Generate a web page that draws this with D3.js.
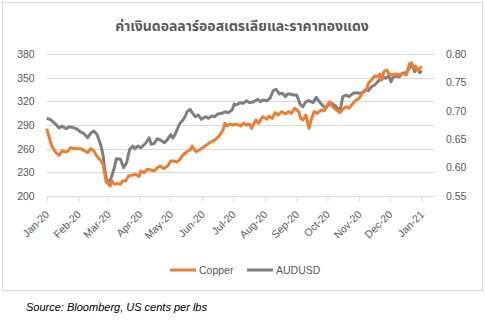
<!DOCTYPE html>
<html><head><meta charset="utf-8">
<script src="https://cdn.jsdelivr.net/npm/d3@7"></script>
<style>
html,body{margin:0;padding:0;background:#fff;}
svg{display:block;}
</style></head>
<body><div id="chart"></div>
<script>
const titleText = "ค่าเงินดอลลาร์ออสเตรเลียและราคาทองแดง";
const sourceText = "Source: Bloomberg, US cents per lbs";
const seriesNames = ["Copper", "AUDUSD"];
const leftTicks = [200, 230, 260, 290, 320, 350, 380];
const rightTicks = [0.55, 0.60, 0.65, 0.70, 0.75, 0.80];
const monthTicks = ["2020-01-01","2020-02-01","2020-03-01","2020-04-01","2020-05-01","2020-06-01","2020-07-01","2020-08-01","2020-09-01","2020-10-01","2020-11-01","2020-12-01","2021-01-01"];

const copperDates = ["2020-01-01","2020-01-03","2020-01-06","2020-01-10","2020-01-13","2020-01-16","2020-01-20","2020-01-22","2020-01-24","2020-01-29","2020-02-03","2020-02-06","2020-02-10","2020-02-13","2020-02-16","2020-02-19","2020-02-23","2020-02-25","2020-02-28","2020-03-01","2020-03-03","2020-03-05","2020-03-07","2020-03-10","2020-03-13","2020-03-15","2020-03-18","2020-03-21","2020-03-25","2020-03-28","2020-03-31","2020-04-02","2020-04-05","2020-04-08","2020-04-12","2020-04-15","2020-04-18","2020-04-21","2020-04-24","2020-04-28","2020-05-01","2020-05-04","2020-05-07","2020-05-10","2020-05-13","2020-05-17","2020-05-20","2020-05-22","2020-05-24","2020-05-26","2020-05-30","2020-06-02","2020-06-05","2020-06-08","2020-06-12","2020-06-15","2020-06-18","2020-06-21","2020-06-23","2020-06-25","2020-06-28","2020-07-01","2020-07-04","2020-07-08","2020-07-11","2020-07-14","2020-07-17","2020-07-19","2020-07-21","2020-07-23","2020-07-26","2020-07-28","2020-07-30","2020-08-03","2020-08-05","2020-08-08","2020-08-11","2020-08-14","2020-08-17","2020-08-21","2020-08-24","2020-08-27","2020-08-30","2020-09-03","2020-09-05","2020-09-07","2020-09-10","2020-09-13","2020-09-15","2020-09-18","2020-09-21","2020-09-25","2020-09-28","2020-10-01","2020-10-03","2020-10-06","2020-10-09","2020-10-13","2020-10-16","2020-10-19","2020-10-22","2020-10-26","2020-10-29","2020-11-01","2020-11-04","2020-11-08","2020-11-10","2020-11-13","2020-11-16","2020-11-19","2020-11-21","2020-11-23","2020-11-25","2020-11-28","2020-11-30","2020-12-04","2020-12-07","2020-12-10","2020-12-13","2020-12-17","2020-12-20","2020-12-22","2020-12-24","2020-12-26","2020-12-28","2020-12-31","2021-01-01"];
const copperValues = [285.3,276,263.4,254.9,251.6,257,255.8,257,261.2,260,260,257.9,254.9,260,257,250.7,244.4,240.2,218,216.1,212.7,219,214.8,216.1,214.8,219,219,225.3,226.6,227.5,224.5,231.7,229.5,233.8,233,231.7,235.9,238,234.6,238,244.4,244.4,243,246.5,252,256.2,258.3,263.4,259.2,256.2,259.2,261.7,264.6,267.6,270.1,273.1,277.3,283.7,292.2,288.7,291.3,290,291.3,288.7,292.2,290,291.3,285.8,291.3,296.3,292.2,297.2,300.5,297.2,301.4,298.5,305.6,302.7,306.9,304,306.9,304.8,311.2,306.9,298.5,296.3,302.7,285.8,296.3,306.9,304.8,309,308.1,315.4,319.5,313.2,309.9,305.6,309.9,313.2,311.2,317.5,321.7,323.8,330.2,334.4,342.9,347,352.1,351.2,354.6,347,357.6,359.7,354.6,353.4,354.6,353.4,355.5,353.4,367.3,369,361.9,364.8,358.8,363.1,361.9];

const audDates = ["2020-01-01","2020-01-05","2020-01-10","2020-01-13","2020-01-16","2020-01-20","2020-01-23","2020-01-28","2020-01-31","2020-02-03","2020-02-06","2020-02-10","2020-02-13","2020-02-16","2020-02-19","2020-02-21","2020-02-23","2020-02-25","2020-02-27","2020-02-29","2020-03-02","2020-03-04","2020-03-07","2020-03-09","2020-03-13","2020-03-16","2020-03-19","2020-03-22","2020-03-25","2020-03-27","2020-03-30","2020-04-02","2020-04-07","2020-04-10","2020-04-12","2020-04-15","2020-04-18","2020-04-21","2020-04-25","2020-04-28","2020-05-01","2020-05-03","2020-05-05","2020-05-07","2020-05-10","2020-05-13","2020-05-15","2020-05-17","2020-05-20","2020-05-22","2020-05-25","2020-05-28","2020-05-31","2020-06-04","2020-06-07","2020-06-10","2020-06-13","2020-06-16","2020-06-20","2020-06-23","2020-06-26","2020-06-30","2020-07-02","2020-07-04","2020-07-08","2020-07-11","2020-07-14","2020-07-17","2020-07-21","2020-07-25","2020-07-28","2020-07-30","2020-08-03","2020-08-06","2020-08-09","2020-08-12","2020-08-15","2020-08-18","2020-08-21","2020-08-23","2020-08-26","2020-08-29","2020-09-01","2020-09-04","2020-09-05","2020-09-07","2020-09-10","2020-09-13","2020-09-17","2020-09-20","2020-09-23","2020-09-26","2020-09-29","2020-10-02","2020-10-05","2020-10-09","2020-10-12","2020-10-14","2020-10-16","2020-10-19","2020-10-22","2020-10-26","2020-10-29","2020-11-01","2020-11-04","2020-11-08","2020-11-10","2020-11-13","2020-11-16","2020-11-19","2020-11-21","2020-11-25","2020-11-27","2020-11-30","2020-12-02","2020-12-04","2020-12-07","2020-12-10","2020-12-13","2020-12-17","2020-12-20","2020-12-23","2020-12-25","2020-12-27","2020-12-30","2021-01-01"];
const audValues = [0.687,0.684,0.676,0.670,0.673,0.6685,0.672,0.670,0.6674,0.6627,0.6604,0.6526,0.6604,0.6644,0.6586,0.649,0.638,0.622,0.592,0.573,0.5764,0.5822,0.5998,0.6157,0.6146,0.5998,0.6086,0.6322,0.638,0.6333,0.638,0.635,0.6438,0.6526,0.641,0.6428,0.6509,0.6486,0.6438,0.6498,0.658,0.652,0.657,0.666,0.678,0.6838,0.6896,0.6984,0.7026,0.6967,0.6896,0.6926,0.685,0.6896,0.6868,0.6908,0.6896,0.6944,0.6956,0.6984,0.6967,0.7014,0.7119,0.7102,0.7143,0.7132,0.7178,0.7143,0.716,0.7202,0.716,0.719,0.7178,0.722,0.7354,0.7379,0.7296,0.7308,0.7248,0.7296,0.7296,0.7278,0.728,0.7132,0.7102,0.7072,0.716,0.7178,0.7143,0.7238,0.716,0.7102,0.7044,0.7102,0.7132,0.7084,0.7014,0.7062,0.7248,0.7278,0.7248,0.7308,0.7319,0.7308,0.7319,0.7379,0.7354,0.7424,0.7454,0.7512,0.7542,0.759,0.7572,0.7613,0.7512,0.759,0.7613,0.76,0.766,0.7671,0.7748,0.7806,0.7688,0.7748,0.7671,0.7706];

const W = 485, H = 323;
const plot = {left: 46.7, right: 434, top: 54, bottom: 196};
const txt = "#595959", grid = "#d9d9d9";
const colors = ["#ED7D31", "#7F7F7F"];
const parse = d3.timeParse("%Y-%m-%d");

const svg = d3.select("#chart").append("svg").attr("width", W).attr("height", H);
svg.append("rect").attr("x", 2.5).attr("y", 2.5).attr("width", 480).attr("height", 288)
  .attr("fill", "#fff").attr("stroke", grid);

const x = d3.scaleTime().domain([parse("2020-01-01"), parse("2021-01-13")]).range([plot.left, plot.right]);
const yL = d3.scaleLinear().domain([200, 380]).range([plot.bottom, plot.top]);
const yR = d3.scaleLinear().domain([0.55, 0.80]).range([plot.bottom, plot.top]);

// gridlines
svg.append("g").selectAll("line").data(leftTicks.slice(1)).join("line")
  .attr("x1", plot.left).attr("x2", plot.right)
  .attr("y1", d => Math.round(yL(d)) + 0.5).attr("y2", d => Math.round(yL(d)) + 0.5)
  .attr("stroke", grid).attr("stroke-width", 1);

// left axis
const gL = svg.append("g").attr("transform", `translate(${plot.left},0)`)
  .call(d3.axisLeft(yL).tickValues(leftTicks).tickSize(0).tickPadding(12));
gL.select(".domain").remove();
gL.selectAll("text").attr("fill", txt).style("font", "10.5px 'Liberation Sans', Arial, sans-serif");

// right axis
const gR = svg.append("g").attr("transform", `translate(${plot.right},0)`)
  .call(d3.axisRight(yR).tickValues(rightTicks).tickSize(0).tickPadding(12).tickFormat(d3.format(".2f")));
gR.select(".domain").remove();
gR.selectAll("text").attr("fill", txt).style("font", "10.5px 'Liberation Sans', Arial, sans-serif");

// x axis
const gX = svg.append("g").attr("transform", `translate(0,${Math.round(plot.bottom) + 0.5})`)
  .call(d3.axisBottom(x).tickValues(monthTicks.map(parse)).tickSize(5).tickFormat(d3.timeFormat("%b-%y")));
gX.select(".domain").attr("stroke", grid).attr("d", `M${plot.left},0H${plot.right}`);
gX.selectAll(".tick line").attr("stroke", grid);
gX.selectAll("text").attr("fill", txt).style("font", "10.5px 'Liberation Sans', Arial, sans-serif")
  .attr("text-anchor", "end").attr("y", 0).attr("dy", "0.35em")
  .attr("transform", "translate(0,16) rotate(-45)");

// lines
const copperData = copperDates.map((d, i) => ({date: parse(d), v: copperValues[i]}));
const audData = audDates.map((d, i) => ({date: parse(d), v: audValues[i]}));
svg.append("path").datum(audData)
  .attr("fill", "none").attr("stroke", colors[1]).attr("stroke-width", 3).attr("stroke-linejoin", "round")
  .attr("d", d3.line().x(d => x(d.date)).y(d => yR(d.v)));
svg.append("path").datum(copperData)
  .attr("fill", "none").attr("stroke", colors[0]).attr("stroke-width", 3).attr("stroke-linejoin", "round")
  .attr("d", d3.line().x(d => x(d.date)).y(d => yL(d.v)));

// title
svg.append("text").attr("x", 242).attr("y", 31).attr("text-anchor", "middle")
  .attr("fill", txt).style("font", "bold 14px Tahoma, 'Noto Sans Thai', 'DejaVu Sans', sans-serif").text(titleText);

// legend
const legX = [170, 247];
seriesNames.forEach((n, i) => {
  svg.append("line").attr("x1", legX[i]).attr("x2", legX[i] + 26).attr("y1", 270).attr("y2", 270)
    .attr("stroke", colors[i]).attr("stroke-width", 3);
  svg.append("text").attr("x", legX[i] + 29).attr("y", 270).attr("dy", "0.35em")
    .attr("fill", txt).style("font", "10.5px 'Liberation Sans', Arial, sans-serif").text(n);
});

// source
svg.append("text").attr("x", 26).attr("y", 311).attr("fill", "#000")
  .style("font", "italic 11px 'Liberation Sans', Arial, sans-serif").text(sourceText);
</script>
</body></html>
